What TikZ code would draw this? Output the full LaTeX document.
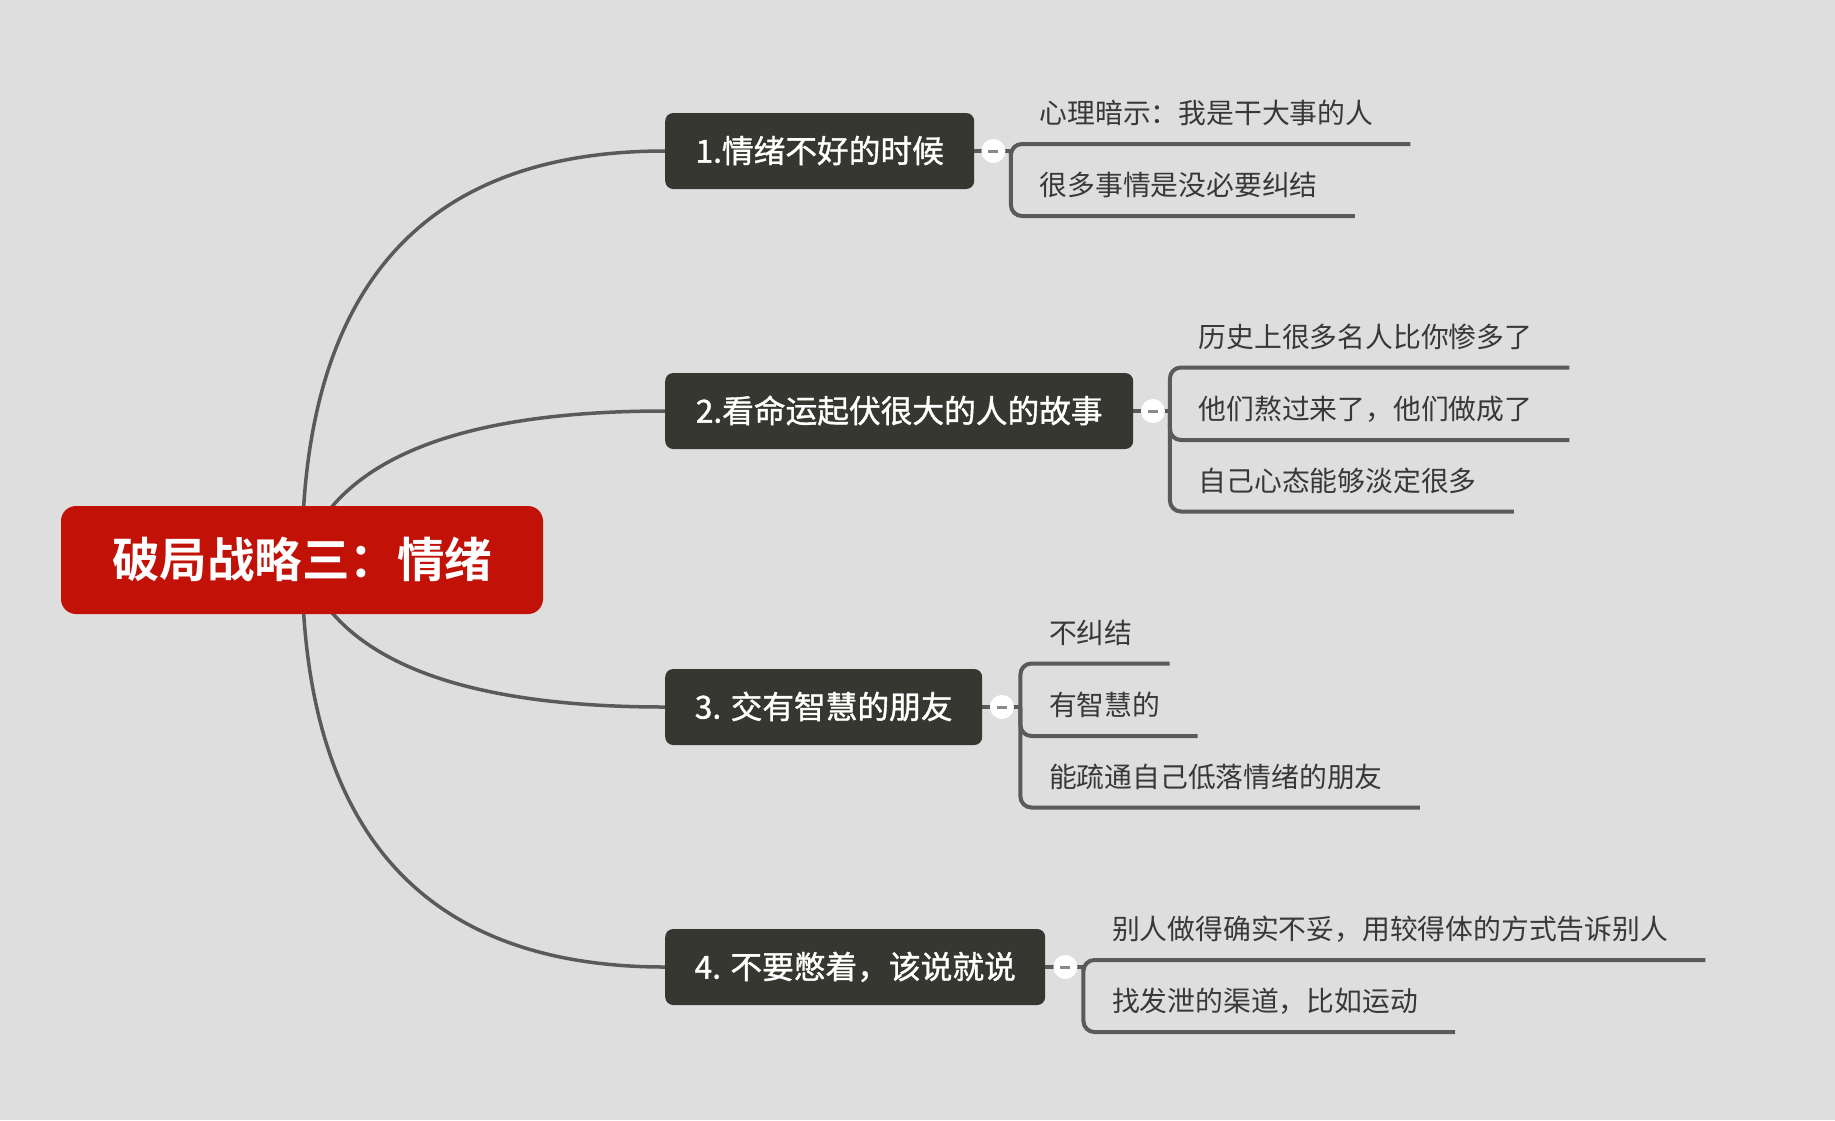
\documentclass[tikz,border=0pt]{standalone}
\usepackage{fontspec}
\newfontfamily\cjk{Noto Sans CJK SC}[BoldFont={Noto Sans CJK SC Bold}]
\newfontfamily\cjkmed{Noto Sans CJK SC}[FakeBold=1.2]
\usetikzlibrary{backgrounds,calc}
\definecolor{bgc}{HTML}{DEDEDE}
\definecolor{linec}{HTML}{5A5A5A}
\definecolor{rootc}{HTML}{C21207}
\definecolor{topicc}{HTML}{373732}
\definecolor{subc}{HTML}{383838}
\definecolor{minusc}{HTML}{8A8A8A}
\tikzset{
 rootbox/.style={fill=rootc, text=white, rounded corners=15pt, minimum width=482pt, minimum height=108pt, inner sep=0pt, font=\cjk\bfseries\fontsize{47.5}{57}\selectfont, text height=40.4pt, text depth=5.7pt},
 topicbox/.style={fill=topicc, text=white, rounded corners=8pt, minimum height=76pt, inner sep=0pt, anchor=west, font=\cjkmed\fontsize{31.7}{38}\selectfont, text height=27pt, text depth=3.8pt},
 subtext/.style={anchor=west, inner sep=0pt, text=subc, font=\cjk\fontsize{27.8}{33}\selectfont, text height=23.6pt, text depth=3.3pt},
 mainlink/.style={draw=linec, line width=3.5pt},
 sublink/.style={draw=linec, line width=4pt, rounded corners=11pt},
 collapser/.style={circle, fill=white, minimum size=24pt, inner sep=0pt, path picture={\draw[minusc, line width=3pt] ([xshift=-5pt]path picture bounding box.center) -- ([xshift=5pt]path picture bounding box.center);}},
}
\begin{document}
\begin{tikzpicture}[x=1pt,y=-1pt]
\useasboundingbox (0,0) rectangle (1835,1120);
\node[rootbox] (root) at (302,560) {破局战略三：情绪};
\node[topicbox, minimum width=309pt] (t1) at (665,151) {1.情绪不好的时候};
\node[topicbox, minimum width=468pt] (t2) at (665,411) {2.看命运起伏很大的人的故事};
\node[topicbox, minimum width=317pt] (t3) at (665,707) {3. 交有智慧的朋友};
\node[topicbox, minimum width=380pt] (t4) at (665,967) {4. 不要憋着，该说就说};
% subtopics
\node[subtext] (s11) at ($(t1.east)+(65,-37.5)$) {心理暗示：我是干大事的人};
\node[subtext] (s12) at ($(t1.east)+(65,34.5)$) {很多事情是没必要纠结};
\node[subtext] (s21) at ($(t2.east)+(65,-74)$) {历史上很多名人比你惨多了};
\node[subtext] (s22) at ($(t2.east)+(65,-1.5)$) {他们熬过来了，他们做成了};
\node[subtext] (s23) at ($(t2.east)+(65,70)$) {自己心态能够淡定很多};
\node[subtext] (s31) at ($(t3.east)+(66.5,-74)$) {不纠结};
\node[subtext] (s32) at ($(t3.east)+(66.5,-1.5)$) {有智慧的};
\node[subtext] (s33) at ($(t3.east)+(66.5,70)$) {能疏通自己低落情绪的朋友};
\node[subtext] (s41) at ($(t4.east)+(66.5,-37.5)$) {别人做得确实不妥，用较得体的方式告诉别人};
\node[subtext] (s42) at ($(t4.east)+(66.5,34.5)$) {找发泄的渠道，比如运动};
% bracket points
\coordinate (b1) at ($(t1.east)+(36.5,0)$);
\coordinate (b2) at ($(t2.east)+(36.5,0)$);
\coordinate (b3) at ($(t3.east)+(38,0)$);
\coordinate (b4) at ($(t4.east)+(38,0)$);
\begin{scope}[on background layer]
\fill[bgc] (0,0) rectangle (1835,1120);
\draw[mainlink] (root.center) .. controls +(0,-272.7) and +(-242,0) .. (t1.west);
\draw[mainlink] (root.center) .. controls +(32.7,-99.3) and +(-209.3,0) .. (t2.west);
\draw[mainlink] (root.center) .. controls +(32.7,98) and +(-209.3,0) .. (t3.west);
\draw[mainlink] (root.center) .. controls +(0,271.3) and +(-242,0) .. (t4.west);
\draw[mainlink] (t1.east) -- (b1);
\draw[mainlink] (t2.east) -- (b2);
\draw[mainlink] (t3.east) -- (b3);
\draw[mainlink] (t4.east) -- (b4);
\end{scope}
\node[collapser] (k1) at ($(t1.east)+(19,0)$) {};
\node[collapser] (k2) at ($(t2.east)+(19.5,0)$) {};
\node[collapser] (k3) at ($(t3.east)+(19.5,0)$) {};
\node[collapser] (k4) at ($(t4.east)+(20,0)$) {};
\foreach \b/\s in {b1/s11,b1/s12,b2/s21,b2/s22,b2/s23,b3/s31,b3/s32,b3/s33,b4/s41,b4/s42}{
  \draw[sublink] (\b) |- ($(\s.west)+(0,30.5)$) -- ($(\s.east)+(37,30.5)$);
}
\end{tikzpicture}
\end{document}
